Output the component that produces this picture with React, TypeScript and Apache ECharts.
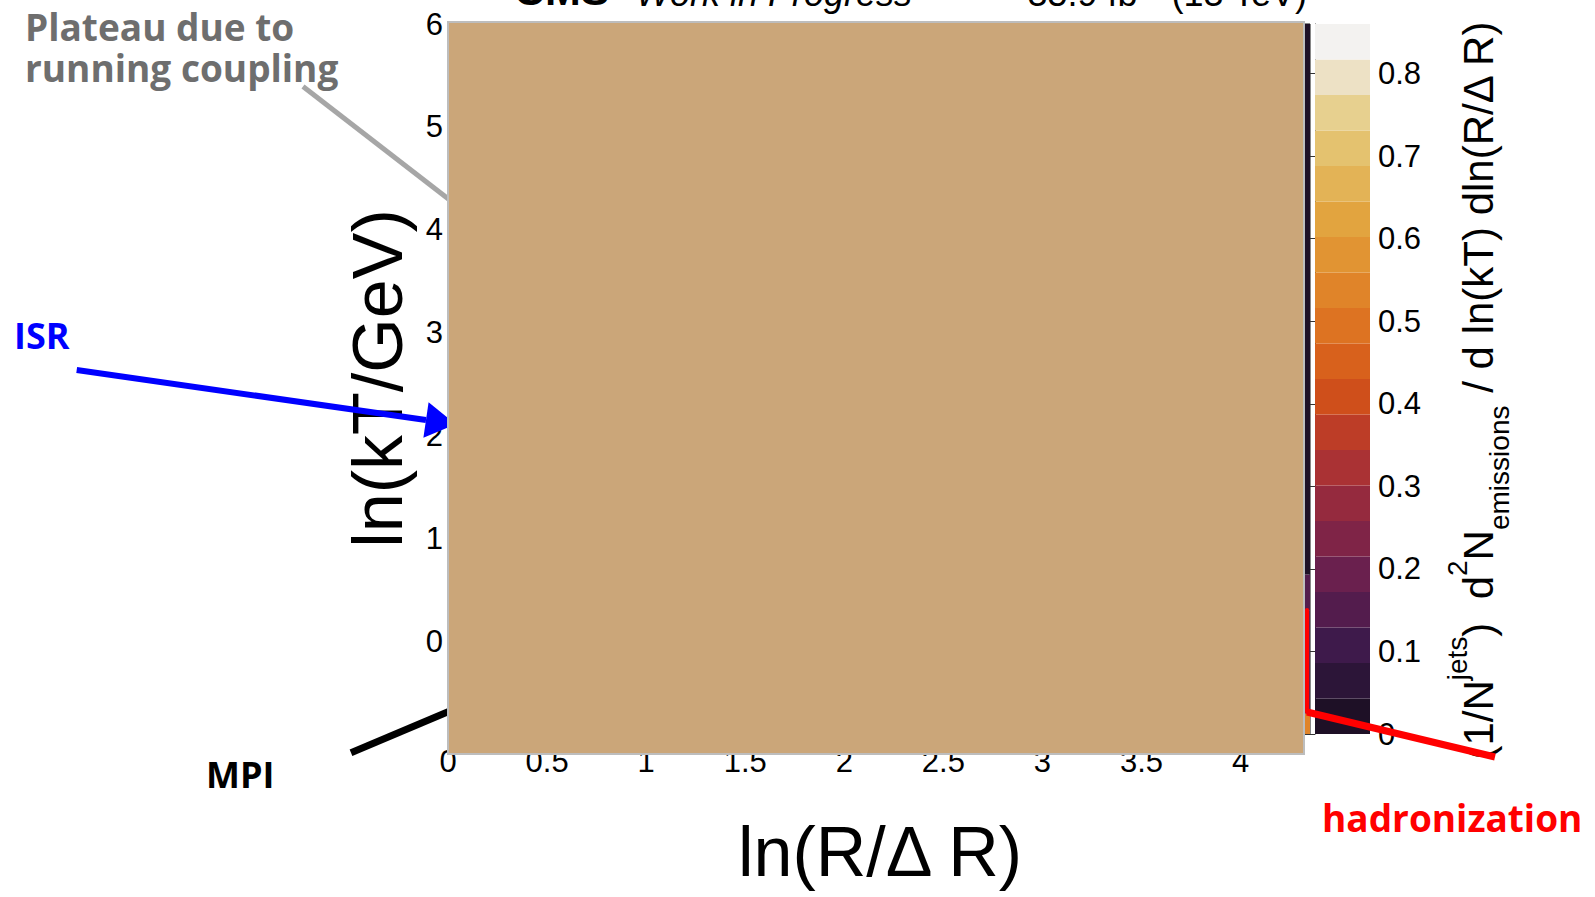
import React, { useEffect, useRef } from "react";
import * as echarts from "echarts";

// ---- axis tick values ----
const xTickValues = [0, 0.5, 1, 1.5, 2, 2.5, 3, 3.5, 4];
const yTickValues = [0, 1, 2, 3, 4, 5, 6];
const zTickValues = [0, 0.1, 0.2, 0.3, 0.4, 0.5, 0.6, 0.7, 0.8];

// ---- palette: contour edges and colours (bottom to top) ----
const bandEdges = [
  0, 0.043, 0.086, 0.129, 0.172, 0.215, 0.258, 0.301, 0.344, 0.387, 0.43,
  0.473, 0.516, 0.559, 0.602, 0.645, 0.688, 0.731, 0.774, 0.817, 0.86,
];
const bandColors = [
  "#1E1026", "#2C1538", "#3E1A4B", "#531C4D", "#6A204E",
  "#7F2447", "#952A3E", "#AA3234", "#BD3D27", "#CF4F1B",
  "#D8611C", "#DD7322", "#E08429", "#E19433", "#E2A43F",
  "#E3B356", "#E4C26F", "#E7D08F", "#EDE1C5", "#F3F2F0",
];

// ---- emission density in the last ln(R/dR) column ----
const lastColumnX = [4.3, 4.35];
const kTEdges = [-0.9, -0.7, 0.3, 0.65, 6.0];
const lastColumnDensity = [0.55, 0.2, 0.16, 0.01];

function colorFor(v: number): string {
  for (let i = 0; i < bandColors.length; i++) {
    if (v < bandEdges[i + 1]) return bandColors[i];
  }
  return bandColors[bandColors.length - 1];
}

const cellData = lastColumnDensity.map((v, i) => [
  lastColumnX[0], lastColumnX[1], kTEdges[i], kTEdges[i + 1], v,
]);
const bandData = bandColors.map((_, i) => [bandEdges[i], bandEdges[i + 1]]);

const SANS = "Liberation Sans, Arial, Helvetica, sans-serif";
const NOTE = "Open Sans, Noto Sans, sans-serif";

export default function App() {
  const ref = useRef<HTMLDivElement>(null);

  useEffect(() => {
    if (!ref.current) return;
    const chart = echarts.init(ref.current, undefined, { renderer: "svg" });

    const tickLabel = { fontSize: 31, fontFamily: SANS, color: "#000" };
    const note = (text: string, x: number, y: number, fill: string, size = 37, lineHeight = 38) => ({
      type: "text", x, y, z: 130,
      style: { text, fontSize: size, lineHeight, fontWeight: "bold", fontFamily: NOTE, fill, align: "left", verticalAlign: "middle" },
    });

    const option: any = {
      animation: false,
      backgroundColor: "#ffffff",
      grid: [
        { left: 448, top: 24, width: 862, height: 710, show: true, borderColor: "#111", borderWidth: 1, backgroundColor: "transparent" },
        { left: 1315, top: 24, width: 55, height: 710 },
      ],
      xAxis: [
        {
          gridIndex: 0, type: "value", min: 0, max: 4.35,
          axisLine: { show: false }, axisTick: { show: false }, splitLine: { show: false },
          axisLabel: { ...tickLabel, customValues: xTickValues, margin: 12 },
        },
        { gridIndex: 1, type: "value", min: 0, max: 1, show: false },
      ],
      yAxis: [
        {
          gridIndex: 0, type: "value", min: -0.9, max: 6,
          axisLine: { show: false }, axisTick: { show: false }, splitLine: { show: false },
          axisLabel: { ...tickLabel, customValues: yTickValues, margin: 5, padding: [8, 0, 0, 0] },
        },
        {
          gridIndex: 1, type: "value", min: 0, max: 0.86, position: "right",
          axisLine: { show: true, lineStyle: { color: "#333", width: 1 } },
          axisTick: { show: true, inside: true, length: 25, customValues: zTickValues, lineStyle: { color: "#333", width: 1 } },
          axisLabel: { ...tickLabel, customValues: zTickValues, margin: 8 },
          splitLine: { show: false },
        },
      ],
      series: [
        {
          type: "custom",
          xAxisIndex: 0, yAxisIndex: 0,
          data: cellData,
          encode: { x: [0, 1], y: [2, 3] },
          renderItem: (params: any, api: any) => {
            const p0 = api.coord([api.value(0), api.value(3)]);
            const p1 = api.coord([api.value(1), api.value(2)]);
            return {
              type: "rect",
              shape: { x: p0[0], y: p0[1], width: p1[0] - p0[0], height: p1[1] - p0[1] },
              style: { fill: colorFor(api.value(4)) },
            };
          },
        },
        {
          type: "custom",
          xAxisIndex: 1, yAxisIndex: 1,
          data: bandData,
          encode: { y: [0, 1] },
          renderItem: (params: any, api: any) => {
            const p0 = api.coord([0, api.value(1)]);
            const p1 = api.coord([1, api.value(0)]);
            return {
              type: "rect",
              shape: { x: p0[0], y: p0[1], width: p1[0] - p0[0], height: p1[1] - p0[1] },
              style: { fill: bandColors[params.dataIndex] },
            };
          },
        },
      ],
      graphic: {
        elements: [
          // header
          { type: "text", x: 514, y: -10, z: 100, style: { text: "CMS", fontSize: 43, fontWeight: "bold", fontFamily: SANS, fill: "#000", align: "left", verticalAlign: "middle" } },
          { type: "text", x: 636, y: -7, z: 100, style: { text: "Work in Progress", fontSize: 36, fontStyle: "italic", fontFamily: SANS, fill: "#000", align: "left", verticalAlign: "middle" } },
          { type: "text", x: 1307, y: -7, z: 100, style: { text: "35.9 fb\u207B\u00B9 (13 TeV)", fontSize: 36, fontFamily: SANS, fill: "#000", align: "right", verticalAlign: "middle" } },
          // axis titles
          { type: "text", x: 378, y: 378.5, rotation: Math.PI / 2, z: 100, style: { text: "ln(kT/GeV)", fontSize: 70, fontFamily: SANS, fill: "#000", align: "center", verticalAlign: "middle" } },
          { type: "text", x: 880, y: 852, z: 100, style: { text: "ln(R/\u0394 R)", fontSize: 70, fontFamily: SANS, fill: "#000", align: "center", verticalAlign: "middle" } },
          {
            type: "text", x: 1478, y: 390, rotation: Math.PI / 2, z: 100,
            style: {
              text: "{m|(1/N}{sup|jets}{m|)  d}{sup|2}{m|N}{sub|emissions}{m| / d ln(kT) dln(R/\u0394 R)}",
              align: "center", verticalAlign: "middle", fill: "#000",
              rich: {
                m: { fontSize: 42, lineHeight: 70, fontFamily: SANS, fill: "#000", verticalAlign: "middle" },
                sup: { fontSize: 28, lineHeight: 28, fontFamily: SANS, fill: "#000", verticalAlign: "top" },
                sub: { fontSize: 28, lineHeight: 28, fontFamily: SANS, fill: "#000", verticalAlign: "bottom" },
              },
            },
          },
          // annotation pointers (partly hidden under the panel)
          { type: "line", z: 100, shape: { x1: 303, y1: 86.5, x2: 462, y2: 209.5 }, style: { stroke: "#A6A6A6", lineWidth: 5 } },
          { type: "line", z: 100, shape: { x1: 76.7, y1: 370, x2: 426, y2: 420 }, style: { stroke: "#0000FF", lineWidth: 6 } },
          { type: "polygon", z: 100, shape: { points: [[455.7, 424.3], [428.6, 402.2], [423.4, 437.8]] }, style: { fill: "#0000FF" } },
          { type: "line", z: 100, shape: { x1: 351, y1: 752.7, x2: 470, y2: 702.6 }, style: { stroke: "#000", lineWidth: 7 } },
          // panel
          { type: "rect", z: 110, shape: { x: 448, y: 22, width: 856, height: 732 }, style: { fill: "#CBA679", stroke: "#BDBDBD", lineWidth: 2 } },
          // hadronization pointer
          { type: "line", z: 120, shape: { x1: 1307, y1: 610, x2: 1307, y2: 712 }, style: { stroke: "#FF0000", lineWidth: 4, lineCap: "round" } },
          { type: "line", z: 120, shape: { x1: 1495, y1: 757, x2: 1307, y2: 712 }, style: { stroke: "#FF0000", lineWidth: 7 } },
          // annotation labels
          note("Plateau due to\nrunning coupling", 25, 46.75, "#6E6E6E", 37, 41.5),
          note("ISR", 14, 335, "#0000FF", 36),
          note("MPI", 206, 774, "#000", 36),
          note("hadronization", 1322, 817, "#FF0000"),
        ],
      },
    };

    chart.setOption(option);
    return () => chart.dispose();
  }, []);

  return (
    <div
      ref={ref}
      style={{ position: "absolute", left: 0, top: 0, width: 1595, height: 897, background: "#fff" }}
    />
  );
}
